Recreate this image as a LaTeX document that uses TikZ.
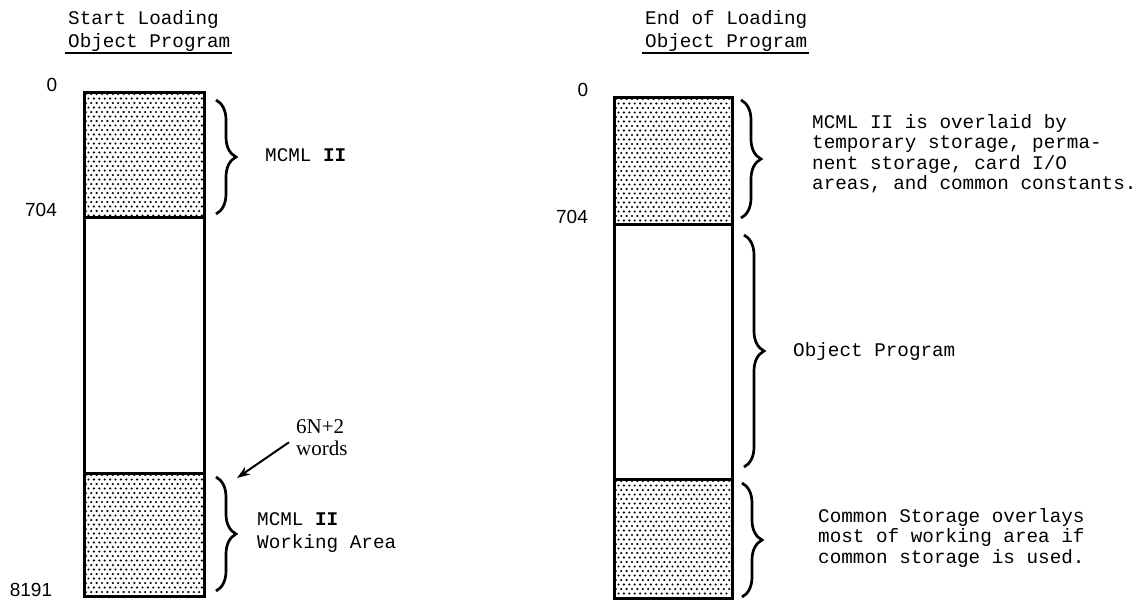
\documentclass[tikz,border=0pt]{standalone}
\usepackage{fontspec}
\setmainfont{Liberation Serif}
\setsansfont{Liberation Sans}
\setmonofont{Liberation Mono}
\usepackage{tikz}
\usetikzlibrary{arrows.meta, positioning, calc, decorations.pathreplacing}

% dotted shading of a memory area, corners (x1,y1) (x2,y2)
\newcommand{\stipple}[4]{%
  \begin{scope}
    \clip (#1,#2) rectangle (#3,#4);
    \foreach \r in {0,...,29}{
      \foreach \c in {0,...,24}{
        \fill ({#1+1.8+\c*5.4+mod(\r,2)*2.7},{#2+2+\r*4.5}) circle (1.2pt);
      }
    }
  \end{scope}}

\begin{document}
\begin{tikzpicture}[
    x=1pt, y=-1pt,
    >={Stealth[length=13pt, width=9pt]},
    memwall/.style={line width=3pt},
    curly/.style={decorate, decoration={brace, amplitude=20pt}, line width=2.7pt},
    typed/.style={font=\ttfamily\fontsize{19.3}{20.5}\selectfont, align=left, inner sep=0pt},
    addr/.style={font=\sffamily\fontsize{19}{21}\selectfont, inner sep=0pt},
    serifnote/.style={font=\rmfamily\fontsize{21}{22}\selectfont, align=left, inner sep=0pt},
]
    \useasboundingbox (0,0) rectangle (1144,600);

    % start of loading
    \node[typed, anchor=north west] (ltitle) at (68,10) {Start Loading\\[3pt]Object Program};
    \draw[line width=2.2pt] ([xshift=-3pt, yshift=-1pt]ltitle.south west) -- ([xshift=1pt, yshift=-1pt]ltitle.south east);

    \node[addr] (lzero) at (52,85) {0};
    \node[addr] (lsplit) at (41,210) {704};
    \node[addr] (lend) at (31,590) {8191};

    \stipple{84}{92}{204}{217}
    \stipple{84}{473}{204}{596}
    \draw[memwall] (84,92) rectangle (204,596);
    \draw[memwall] (84,217) -- (204,217);
    \draw[memwall] (84,473) -- (204,473);

    \draw[curly] (216,100) -- (216,214);
    \node[typed, anchor=west] (lmcml) at (265,155) {MCML \textbf{II}};

    \draw[curly] (216,477) -- (216,591);
    \node[typed, anchor=north west] (lwork) at (257,512) {MCML \textbf{II}\\[3pt]Working Area};

    \node[serifnote, anchor=north west] (wordsnote) at (296,419) {6N+2\\words};
    \coordinate (wordtip) at (237,478);
    \draw[->, line width=2pt] ([xshift=-7pt, yshift=-5pt]wordsnote.west) -- (wordtip);

    % end of loading
    \node[typed, anchor=north west] (rtitle) at (645,10) {End of Loading\\[3pt]Object Program};
    \draw[line width=2.2pt] ([xshift=-3pt, yshift=-1pt]rtitle.south west) -- ([xshift=1pt, yshift=-1pt]rtitle.south east);

    \node[addr] (rzero) at (583,90) {0};
    \node[addr] (rsplit) at (572,217) {704};

    \stipple{614}{97}{732}{224}
    \stipple{614}{479}{732}{598}
    \draw[memwall] (614,97) rectangle (732,598);
    \draw[memwall] (614,224) -- (732,224);
    \draw[memwall] (614,479) -- (732,479);

    \draw[curly] (741,100) -- (741,218);
    \node[typed, anchor=north west] (rover) at (812,114) {MCML II is overlaid by\\temporary storage, perma-\\nent storage, card I/O\\areas, and common constants.};

    \draw[curly] (744,235) -- (744,467);
    \node[typed, anchor=west] (robj) at (793,352) {Object Program};

    \draw[curly] (742,483) -- (742,597);
    \node[typed, anchor=north west] (rcommon) at (818,508) {Common Storage overlays\\most of working area if\\common storage is used.};
\end{tikzpicture}
\end{document}
